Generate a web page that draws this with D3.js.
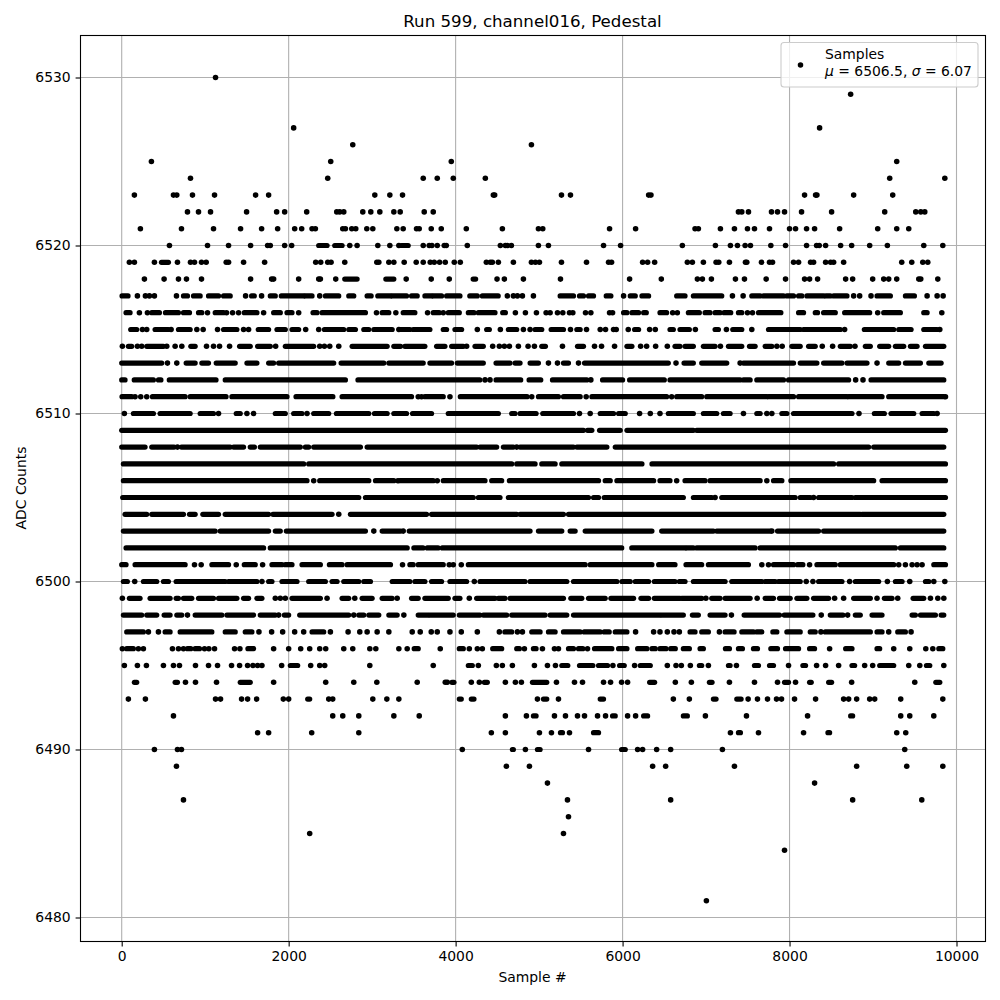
<!DOCTYPE html>
<html><head><meta charset="utf-8">
<script src="https://cdnjs.cloudflare.com/ajax/libs/d3/7.8.5/d3.min.js"></script>
<style>html,body{margin:0;padding:0;background:#fff}svg{display:block}text{font-family:"DejaVu Sans",sans-serif;fill:#000}</style>
</head><body><svg id="c" width="1000" height="1000"></svg>
<script>
// Values. A number is a separate dot; [a,b] is a stretch where dots overlap into a solid bar.
const a6530=[1124];
const a6529=[8732];
const a6527=[2060,8360];
const a6526=[2768,4908];
const a6525=[356,2504,3948,9284];
const a6524=[824,2468,3612,3780,3972,4356,9200,9860];
const a6523=[152,620,660,848,1112,1604,1760,3032,3212,3364,4452,4468,5268,5376,6312,6340,8180,8312,8328,8768,9236];
const a6522=[788,920,1064,1496,1856,1952,2216,2576,2612,2660,2888,2984,3092,3260,3336,3624,3732,7388,7428,7508,7784,7856,7940,8144,8504,9140,9512,9572,9620];
const a6521=[224,716,1100,1424,1676,1868,2072,2156,2280,2320,2648,2680,2756,2804,2936,3008,3296,3372,3532,3564,3708,3828,4128,4560,4992,5044,5844,6156,6868,6908,7172,7340,7496,7580,7760,8000,8072,8204,8300,8600,9056,9284,9428];
const a6520=[572,1028,1280,1544,1748,1780,1952,2036,[2360,2460],[2552,2640],2732,2820,3068,3212,3320,[3352,3432],3612,3684,3716,3780,3864,3888,4140,4536,4596,4620,4668,4992,5112,5772,5976,6716,7112,7292,7376,7468,7532,7776,7952,8204,8324,8356,8432,8612,8744,8960,9172,9608,9836];
const a6519=[92,152,392,[476,560],668,824,872,956,1012,1252,1280,1460,1712,2324,2384,2468,2508,2672,3056,3080,3200,3260,3384,3528,3612,3696,3744,3808,3876,3984,4056,4368,4416,4440,4512,4692,4908,4956,5004,5268,5568,5832,5868,6240,6300,6384,6776,6836,6968,7120,7152,7280,7472,7488,7664,7760,7796,8048,8108,8252,8288,8432,8492,8528,8648,9344,9464,9596,9656];
const a6518=[272,508,680,776,956,1544,1796,1820,2120,2360,2380,2564,[2672,2820],[3164,3260],3408,3708,3924,[4210,4240],4496,4584,4812,5256,6084,6464,6896,6956,7064,7352,7460,7720,7952,8180,8240,8336,8672,8756,8996,9128,9188,9284,9548,9572,9776];
const a6517=[[4,76],188,284,332,392,656,[740,788],[860,940],[1040,1160],[1220,1300],1484,[1556,1588],1676,[1780,1840],[1912,2180],[2200,2280],2372,[2440,2600],[2720,2780],[2940,2988],[3068,3220],[3240,3412],[3472,3540],[3632,3712],[3732,3832],[3892,4052],[4170,4260],[4320,4510],4620,4692,4740,4800,4932,[5252,5412],[5484,5532],[5592,5652],[5804,5860],6012,[6092,6152],[6232,6312],[6648,6748],[6848,7188],7316,7444,[7548,7648],[7688,7928],[7968,8048],[8108,8148],[8208,8408],[8436,8488],[8528,8688],8768,8840,8976,[9048,9208],[9388,9496],9648,9768,9840];
const a6516=[[52,100],212,308,[360,452],[524,680],[740,812],[920,960],1028,[1120,1220],1256,1328,1400,[1468,1620],1700,[1820,1900],[1980,2040],2120,[2292,2340],[2400,2920],3052,[3120,3200],3284,[3372,3512],3664,[3732,3804],3852,[3912,4044],[4152,4220],[4272,4472],[4564,4596],4716,4836,4968,5084,5132,5220,5284,5364,5404,5556,5620,5844,5880,[6012,6052],[6112,6192],[6252,6284],[6448,6528],6600,6656,[6788,6920],[6988,7048],[7108,7168],[7216,7296],[7388,7428],7496,7556,[7628,7896],[8108,8168],[8308,8336],[8408,8548],[8660,8960],9056,[9128,9328],[9608,9648],9824];
const a6515=[[108,180],248,300,[400,560],592,[680,820],900,976,1148,[1220,1380],1460,1520,[1636,1760],[1860,1960],[2040,2120],2204,2360,[2428,2660],[2720,2800],[2900,2960],[3020,3240],3320,[3332,3452],[3492,3692],[3852,3892],[3992,4072],4260,[4372,4404],4536,[4632,4732],4812,4892,[4952,5032],[5144,5292],5376,[5452,5492],5568,5732,5796,5892,5924,6068,[6144,6192],6324,6392,[6568,6608],[6688,6800],6872,[7108,7148],7244,[7320,7428],7548,[7748,8128],[8168,8608],8660,[8896,9248],[9308,9456],[9608,9768],9800];
const a6514=[8,[80,120],188,240,[300,500],540,640,720,[828,880],1016,1100,1172,1292,[1412,1540],[1628,1780],1844,[1960,2300],2372,2428,2492,2600,[2760,3180],[3260,3340],[3392,3632],[3772,3872],[3952,4092],4132,[4232,4332],4444,4524,4584,4644,4752,4868,4944,[5032,5076],5280,[5460,5532],5664,5748,5904,[6052,6112],6216,6288,6396,6536,[6628,6688],[6748,6848],[6968,7108],7172,[7268,7428],[7520,7588],[7708,7788],7848,7912,[8028,8128],[8228,8308],8392,8516,[8608,8728],8784,[8908,8968],[9080,9188],[9268,9368],[9448,9528],[9628,9848]];
const a6513=[[0,480],548,660,[772,880],[960,1040],[1132,1360],[1500,1620],[1760,1820],[1880,2540],[2628,3140],[3200,3612],[3692,3952],[4020,4332],[4484,4652],[4712,4772],[4892,4992],5112,5220,[5292,5352],5472,[5544,6548],6640,[6736,6848],[6948,7248],7408,[7448,8048],[8128,8328],[8408,8628],[8688,8928],9048,[9188,9308],[9388,9568],[9668,9816]];
const a6512=[[0,40],[150,380],[440,470],[570,1130],[1240,2680],[2830,4290],4352,4412,[4484,4780],[4880,5020],[5160,5572],5620,[5760,6000],[6084,6500],[6568,7408],[7448,7528],[7608,7928],[7988,8708],8792,8880,[8976,9848]];
const a6511=[[4,120],160,228,300,[368,760],[820,1250],[1320,1980],[2088,2530],[2640,3472],3552,3592,[3632,3852],3932,[4056,4856],4912,[4992,5232],[5292,5492],5564,[5632,6528],6588,[6648,6948],[7008,7728],[7748,8048],[8108,8688],[8708,9108],[9188,9848],9868];
const a6510=[32,[140,380],[460,820],[940,1100],1160,[1372,1420],1500,1580,[1840,1960],[2060,2160],2220,[2300,2480],[2572,2960],[3028,3180],[3260,3340],[3352,3412],[3484,3712],[3912,4512],[4672,4712],[4772,4964],[5044,5412],5484,5612,[5732,5892],[5952,6032],6204,6332,6448,[6548,6848],[6968,7128],[7208,7288],7448,[7608,7648],7728,7788,[7908,7968],[8048,8748],8832,[9016,9136],[9216,9488],[9588,9728],9768];
const a6509=[[0,5532],[5580,5632],[5724,5972],[6052,6848],[6888,9868]];
const a6508=[[0,280],[360,628],668,[716,1300],[1340,1460],[1540,1590],[1660,2140],[2200,2240],[2300,2860],[2940,4252],[4292,4492],[4572,4692],4732,[4772,5412],[5452,5812],[5912,8948],[9008,9848]];
const a6507=[[20,2180],[2240,4672],[4732,4952],[5032,5192],[5272,6232],[6352,8528],[8588,9868]];
const a6506=[[20,2220],2300,[2372,2960],[3040,3260],3308,[3332,3732],3780,[3852,4352],[4432,4552],[4644,5712],[5792,5852],[5932,6372],[6448,6568],6648,[6748,6988],[7048,7648],7728,[7808,7908],[8016,9008],[9108,9868]];
const a6505=[[12,2840],[2920,4212],[4272,4532],[4632,5592],[5652,5712],[5780,6728],[6848,7068],7108,[7188,8068],[8128,8248],8288,[8348,8748],[8788,9868]];
const a6504=[[40,300],[360,740],[812,880],[972,1160],[1240,1760],[1812,2520],2600,[2740,3652],[3712,4732],[4772,5292],[5352,8848],[8868,9848]];
const a6503=[[20,1120],[1180,1760],[1840,1900],[1972,2920],3020,[3120,3340],3372,[3444,4892],[4992,5272],[5372,5432],[5552,6352],[6468,7088],[7128,7768],7788,[7856,8348],[8408,9848]];
const a6502=[[52,1700],[1780,3420],[3500,3610],[3660,3790],[3840,5990],[6110,6748],[6770,6848],[6888,7588],[7648,9268],[9328,9848]];
const a6501=[[0,52],[160,760],872,952,[1080,1280],1372,[1468,1600],1688,[1800,1920],[1960,2040],[2160,2380],[2488,2640],[2700,3220],3364,[3452,3492],[3552,3852],3924,3972,4068,[4152,5552],[5612,6352],[6432,6628],[6760,6948],[7028,7508],7668,7748,[7808,8048],[8096,8160],8240,[8328,8548],[8608,9248],9308,9388,9468,9528,9588,[9728,9868]];
const a6500=[[20,68],156,[260,420],[500,560],[652,1240],[1280,1620],1680,[1760,1800],[1920,2100],[2240,2440],[2520,2580],[2660,2840],[2900,2980],[3240,3452],[3512,3632],[3712,3832],[3932,4132],4224,[4292,4832],[4892,5332],[5412,5932],[5992,6092],[6152,6312],[6380,6628],[6680,6748],[6848,7228],[7308,7668],[7708,7828],[7868,8128],8200,8280,[8348,8628],8720,[8788,9068],9172,[9268,9348],9440,[9628,9668],9728,9860];
const a6499=[8,[92,220],[340,580],[652,680],[740,840],[920,1100],[1160,1380],[1460,1520],[1620,1680],1840,1900,1960,[2040,2380],2460,[2640,2720],2792,[2880,3000],[3120,3240],3300,[3472,3552],[3632,3912],[3992,4052],4164,[4252,4472],[4512,4592],[4652,5292],[5380,5512],[5592,5792],[5860,6132],[6220,6312],[6380,6688],[6708,6948],6998,[7068,7168],[7228,7528],7612,[7708,7808],[7880,8008],[8088,8208],[8288,8468],8540,8648,[8768,8968],9048,[9136,9228],9296,[9480,9608],9688,9776,9848];
const a6498=[[20,240],[300,420],[508,580],[660,720],788,[880,1200],[1260,1580],[1660,1840],1880,[1948,2000],[2132,2720],2780,[2840,2900],[2960,3080],[3200,3300],3380,[3552,3672],[3692,3972],[4044,4292],[4332,4612],[4672,5072],[5132,5332],[5412,6448],[6468,6728],[6836,6908],[7048,7228],7304,[7456,7880],[7936,8280],8380,[8488,8640],8696,[8788,8848],[8988,9108],[9468,9508],[9568,9748],[9816,9848]];
const a6497=[[60,260],320,440,[520,580],[700,1080],[1240,1360],[1480,1560],1644,1796,1928,2072,2180,[2280,2420],2500,2712,2852,2940,3060,3200,3480,3576,3708,3780,3932,4068,4260,4524,[4590,4672],4740,4800,[4912,5012],[5112,5192],[5292,5492],[5540,5732],[5780,5840],[5912,6052],6156,6372,6448,6536,6616,6680,[6808,6868],[6948,7028],7160,[7228,7336],[7428,7568],[7608,7668],[7800,7848],[7968,8128],[8248,8308],8376,[8428,8968],[9048,9108],9188,[9296,9388],9456];
const a6496=[8,[60,140],200,260,608,680,740,[788,828],[880,932],992,1044,1112,1352,1416,[1512,1580],1820,2000,2144,2252,2372,2444,2660,2768,2972,3044,3320,3420,[3504,3552],3816,[4044,4092],4164,4260,4320,[4444,4552],[4732,4764],4824,[4932,4964],5040,5184,5232,[5352,5412],[5472,5524],5580,[5664,5872],[5952,6052],[6180,6292],[6352,6392],[6448,6520],[6576,6632],[6728,6800],[6928,6968],[7232,7280],[7388,7436],[7568,7616],[7776,7856],[7952,8108],[8240,8300],8480,[8672,8748],[9048,9080],9248,9440,9632,9716,[9788,9836]];
const a6495=[32,188,296,500,620,692,884,1040,1148,1316,1412,1508,1572,1628,1680,1916,[2020,2108],2264,2372,2432,2972,3732,[4152,4200],4272,4488,4560,4680,4944,5100,5196,[5272,5344],[5484,5644],[5712,5820],5884,[5964,6020],6144,[6212,6332],6536,6640,6704,6812,[6920,6948],7028,[7268,7288],7364,[7580,7628],[7760,7808],7988,[8160,8192],8324,8432,8588,[8748,8780],8900,8996,[9080,9248],9428,9560,[9640,9680],9848];
const a6494=[[152,180],[640,668],764,884,1136,[1420,1540],1820,2444,2780,3056,3540,3876,3900,[3956,3980],4188,4284,[4344,4380],4596,4716,4788,[4920,5092],5208,5424,5520,5772,5856,5988,6060,[6324,6384],6632,6824,[7040,7072],7280,7580,7856,[7940,7988],8072,[8240,8260],[8468,8504],8744,9500,[9752,9800]];
const a6493=[80,284,1124,1184,1436,1508,1616,1936,2000,[2228,2252],2480,2528,3008,3176,3320,[4044,4068],[4188,4220],4980,[5052,5092],5232,[5732,5772],6608,6800,[7088,7120],[7368,7420],7504,7616,7736,7844,7904,8060,8312,8648,8708,8804,8960,9020,9332,9836];
const a6492=[620,2528,2648,2840,3260,3564,4596,4848,[4932,4964],5184,5316,5460,5544,5700,5796,[5880,5912],6060,6156,[6252,6300],[6728,6776],6992,7484,8216,[8732,8756],9332,9440,9728];
const a6491=[1628,1760,2276,2840,4428,4596,5004,5148,[5256,5280],5364,[5652,5712],7292,[7388,7412],7628,8168,[8460,8480],9284,9392];
const a6490=[392,668,716,4080,[4680,4692],4836,[4980,5012],5592,[5988,6032],6180,6240,6408,6576,7196,9380];
const a6489=[656,4608,4884,6360,6516,7340,8804,9404,9836];
const a6488=[5100,8300];
const a6487=[740,5340,6576,8756,9584];
const a6486=[5352];
const a6485=[2252,5292];
const a6484=[7940];
const a6481=[7004];
const adcLevels=[6530,6529,6527,6526,6525,6524,6523,6522,6521,6520,6519,6518,6517,6516,6515,6514,6513,6512,6511,6510,6509,6508,6507,6506,6505,6504,6503,6502,6501,6500,6499,6498,6497,6496,6495,6494,6493,6492,6491,6490,6489,6488,6487,6486,6485,6484,6481];
const levelSamples=[a6530,a6529,a6527,a6526,a6525,a6524,a6523,a6522,a6521,a6520,a6519,a6518,a6517,a6516,a6515,a6514,a6513,a6512,a6511,a6510,a6509,a6508,a6507,a6506,a6505,a6504,a6503,a6502,a6501,a6500,a6499,a6498,a6497,a6496,a6495,a6494,a6493,a6492,a6491,a6490,a6489,a6488,a6487,a6486,a6485,a6484,a6481];
const xTicks=[0,2000,4000,6000,8000,10000];
const yTicks=[6480,6490,6500,6510,6520,6530];

const svg=d3.select("#c");
const L=80.5,R=985.5,T=35.5,B=941.5;
const x=d3.scaleLinear().domain([0,10000]).range([121.7,956.5]);
const y=d3.scaleLinear().domain([6480,6530]).range([917.5,77.5]);
const grid="#b0b0b0",lw=1.1,rDot=2.78;
svg.append("rect").attr("width",1000).attr("height",1000).attr("fill","#fff");
const g=svg.append("g");
g.selectAll(".gx").data(xTicks).join("line").attr("x1",d=>x(d)).attr("x2",d=>x(d)).attr("y1",T).attr("y2",B).attr("stroke",grid).attr("stroke-width",lw);
g.selectAll(".gy").data(yTicks).join("line").attr("y1",d=>y(d)).attr("y2",d=>y(d)).attr("x1",L).attr("x2",R).attr("stroke",grid).attr("stroke-width",lw);

const dots=[],runs=[];
adcLevels.forEach((lv,i)=>levelSamples[i].forEach(v=>{
  if(Array.isArray(v)) runs.push({lv,a:v[0],b:v[1]}); else dots.push({lv,s:v});
}));
const marks=svg.append("g");
marks.selectAll("line").data(runs).join("line")
 .attr("x1",d=>x(d.a)).attr("x2",d=>x(d.b)).attr("y1",d=>y(d.lv)).attr("y2",d=>y(d.lv))
 .attr("stroke","#000").attr("stroke-width",5.2).attr("stroke-linecap","round");
marks.selectAll("circle").data(dots).join("circle")
 .attr("cx",d=>x(d.s)).attr("cy",d=>y(d.lv)).attr("r",rDot).attr("fill","#000");

const ax=svg.append("g").attr("transform",`translate(0,${B})`)
 .call(d3.axisBottom(x).tickValues(xTicks).tickFormat(d3.format("d")).tickSize(4.9).tickPadding(4.9).tickSizeOuter(0));
const ay=svg.append("g").attr("transform",`translate(${L},0)`)
 .call(d3.axisLeft(y).tickValues(yTicks).tickFormat(d3.format("d")).tickSize(4.9).tickPadding(4.9).tickSizeOuter(0));
[ax,ay].forEach(a=>{a.select(".domain").remove();a.selectAll("line").attr("stroke","#000").attr("stroke-width",lw);a.selectAll("text").attr("font-size",13.9).attr("font-family","DejaVu Sans").attr("fill","#000");});
svg.append("rect").attr("x",L).attr("y",T).attr("width",R-L).attr("height",B-T).attr("fill","none").attr("stroke","#000").attr("stroke-width",lw);

svg.append("text").attr("x",532.5).attr("y",27).attr("text-anchor","middle").attr("font-size",16.67).text("Run 599, channel016, Pedestal");
svg.append("text").attr("x",532.5).attr("y",982).attr("text-anchor","middle").attr("font-size",13.9).text("Sample #");
svg.append("text").attr("transform","translate(26,488) rotate(-90)").attr("text-anchor","middle").attr("font-size",13.9).text("ADC Counts");

const lg=svg.append("g");
lg.append("rect").attr("x",781).attr("y",42.5).attr("width",197).attr("height",44.5).attr("rx",3).attr("fill","#fff").attr("fill-opacity",0.8).attr("stroke","#ccc").attr("stroke-width",1.1);
lg.append("circle").attr("cx",800.5).attr("cy",65).attr("r",rDot).attr("fill","#000");
lg.append("text").attr("x",825).attr("y",59).attr("font-size",13.9).text("Samples");
const t=lg.append("text").attr("x",825).attr("y",76).attr("font-size",13.9);
t.append("tspan").attr("font-style","italic").text("\u03bc");
t.append("tspan").text(" = 6506.5, ");
t.append("tspan").attr("font-style","italic").text("\u03c3");
t.append("tspan").text(" = 6.07");
</script></body></html>
